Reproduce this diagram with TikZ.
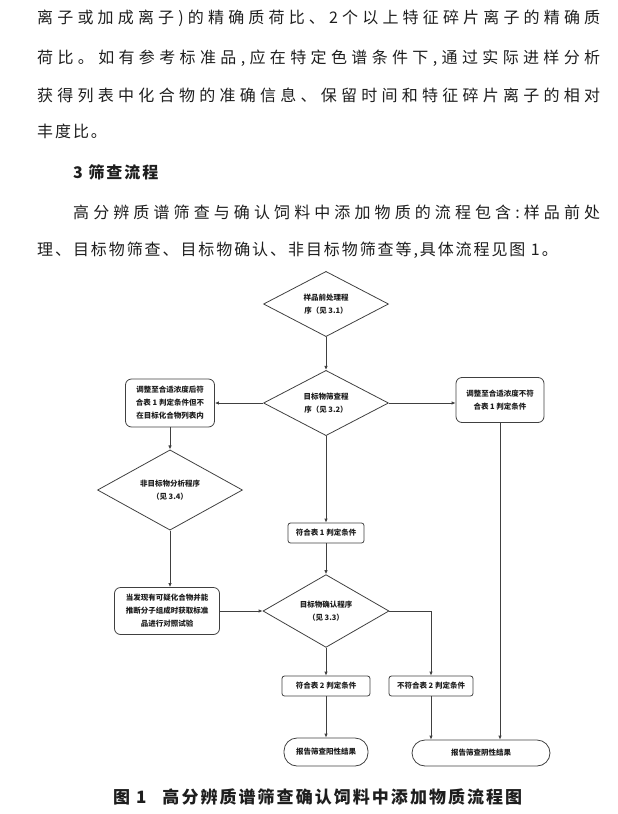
\documentclass[tikz,border=0pt]{standalone}
\usepackage{fontspec}
\setmainfont{Noto Sans CJK SC}
\newfontfamily\bodyfont[LetterSpace=12]{Noto Sans CJK SC}
\usepackage{xcolor}
\usetikzlibrary{arrows.meta, positioning}
\usetikzlibrary{shapes.geometric}
\definecolor{linegray}{HTML}{404040}
\definecolor{inkgray}{HTML}{1E1E1E}
\newcommand{\chartfont}{\fontsize{7.5}{13}\selectfont\bfseries}
\newcommand{\paperfont}{\bodyfont\fontsize{16}{20}\selectfont}
% spread the characters of one line evenly over a given width
\newcommand{\spreadline}[2]{\hbox to #1{\spreadfirst#2\relax}}
\def\spreadfirst#1{#1\spreadnext}
\def\spreadnext#1{\ifx#1\relax\else\hfill#1\expandafter\spreadnext\fi}
\tikzstyle{decision} = [diamond, draw=linegray, line width=0.8pt, inner sep=0pt, align=center, text=inkgray, font=\chartfont]
\tikzstyle{process} = [rectangle, rounded corners=6pt, draw=linegray, line width=0.8pt, align=center, text=inkgray, font=\chartfont]
\tikzstyle{cond} = [rectangle, rounded corners=2.5pt, draw=linegray, line width=0.8pt, minimum height=20pt, align=center, text=inkgray, font=\chartfont]
\tikzstyle{terminal} = [rectangle, rounded corners=13pt, draw=linegray, line width=0.8pt, align=center, text=inkgray, font=\chartfont]
\tikzstyle{arrow} = [line width=0.8pt, draw=linegray, -{Latex[length=4pt,width=3.5pt]}]
\tikzstyle{bodyline} = [inner sep=0pt, anchor=base west, text=inkgray, font=\paperfont]

\begin{document}
\begin{tikzpicture}[x=1pt, y=-1pt]
\useasboundingbox (0,0) rectangle (618,814);

% Text above the chart
\node (line1) [bodyline] at (37,23) {\spreadline{563pt}{离子或加成离子)的精确质荷比、2个以上特征碎片离子的精确质}};
\node (line2) [bodyline] at (37,63) {\spreadline{563pt}{荷比。如有参考标准品,应在特定色谱条件下,通过实际进样分析}};
\node (line3) [bodyline] at (37,101) {\spreadline{563pt}{获得列表中化合物的准确信息、保留时间和特征碎片离子的相对}};
\node (line4) [bodyline] at (37,137) {丰度比。};
\node (heading) [bodyline, font=\paperfont\bfseries] at (73,178) {3 筛查流程};
\node (line5) [bodyline] at (73,218) {\spreadline{527pt}{高分辨质谱筛查与确认饲料中添加物质的流程包含:样品前处}};
\node (line6) [bodyline] at (37,255) {理、目标物筛查、目标物确认、非目标物筛查等,具体流程见图 1。};

% Nodes
\node (prep) [decision, minimum width=125pt, minimum height=54pt] at (326,304) {样品前处理程\\序（见 3.1）};
\node (screen) [decision, minimum width=125pt, minimum height=55pt, below of=prep, node distance=99pt] {目标物筛查程\\序（见 3.2）};
\node (adjin) [process, minimum width=89pt, minimum height=48pt] at (170,403) {调整至合适浓度后符\\合表 1 判定条件但不\\在目标化合物列表内};
\node (adjout) [process, minimum width=88pt, minimum height=45pt] at (500,400) {调整至合适浓度不符\\合表 1 判定条件};
\node (nontarget) [decision, minimum width=145pt, minimum height=55pt] at (170,490) {非目标物分析程序\\（见 3.4）};
\node (suspect) [process, minimum width=105pt, minimum height=47pt] at (167,611) {当发现有可疑化合物并能\\推断分子组成时获取标准\\品进行对照试验};
\node (meet1) [cond, minimum width=76pt, below of=screen, node distance=130pt] {符合表 1 判定条件};
\node (confirm) [decision, minimum width=126pt, minimum height=55pt, below of=meet1, node distance=78pt] {目标物确认程序\\（见 3.3）};
\node (meet2) [cond, minimum width=88pt, below of=confirm, node distance=75pt] {符合表 2 判定条件};
\node (fail2) [cond, minimum width=84pt] at (431,686) {不符合表 2 判定条件};
\node (positive) [terminal, minimum width=84pt, minimum height=28pt, below of=meet2, node distance=66pt] {报告筛查阳性结果};
\node (negative) [terminal, minimum width=138pt, minimum height=26pt] at (481,753) {报告筛查阴性结果};

% Arrows
\draw [arrow] (prep) -- (screen);
\draw [arrow] (screen.west) -- (adjin.east);
\draw [arrow] (screen.east) -- (screen.east -| adjout.west);
\draw [arrow] (adjin.south) -- (nontarget.north);
\draw [arrow] (nontarget.south) -- (nontarget.south |- suspect.north);
\draw [arrow] (screen.south) -- (meet1.north);
\draw [arrow] (meet1.south) -- (confirm.north);
\draw [arrow] (suspect.east) -- (confirm.west);
\draw [arrow] (confirm.south) -- (meet2.north);
\draw [arrow] (confirm.east) -| (fail2.north);
\draw [arrow] (meet2.south) -- (positive.north);
\draw [arrow] (fail2.south) -- (fail2.south |- negative.north);
\draw [arrow] (adjout.south) -- (adjout.south |- negative.north);

% Caption
\node (caption) [bodyline, font=\bodyfont\fontsize{17}{20}\selectfont\bfseries] at (113,803) {图 1\hspace{16pt}高分辨质谱筛查确认饲料中添加物质流程图};

\end{tikzpicture}
\end{document}
